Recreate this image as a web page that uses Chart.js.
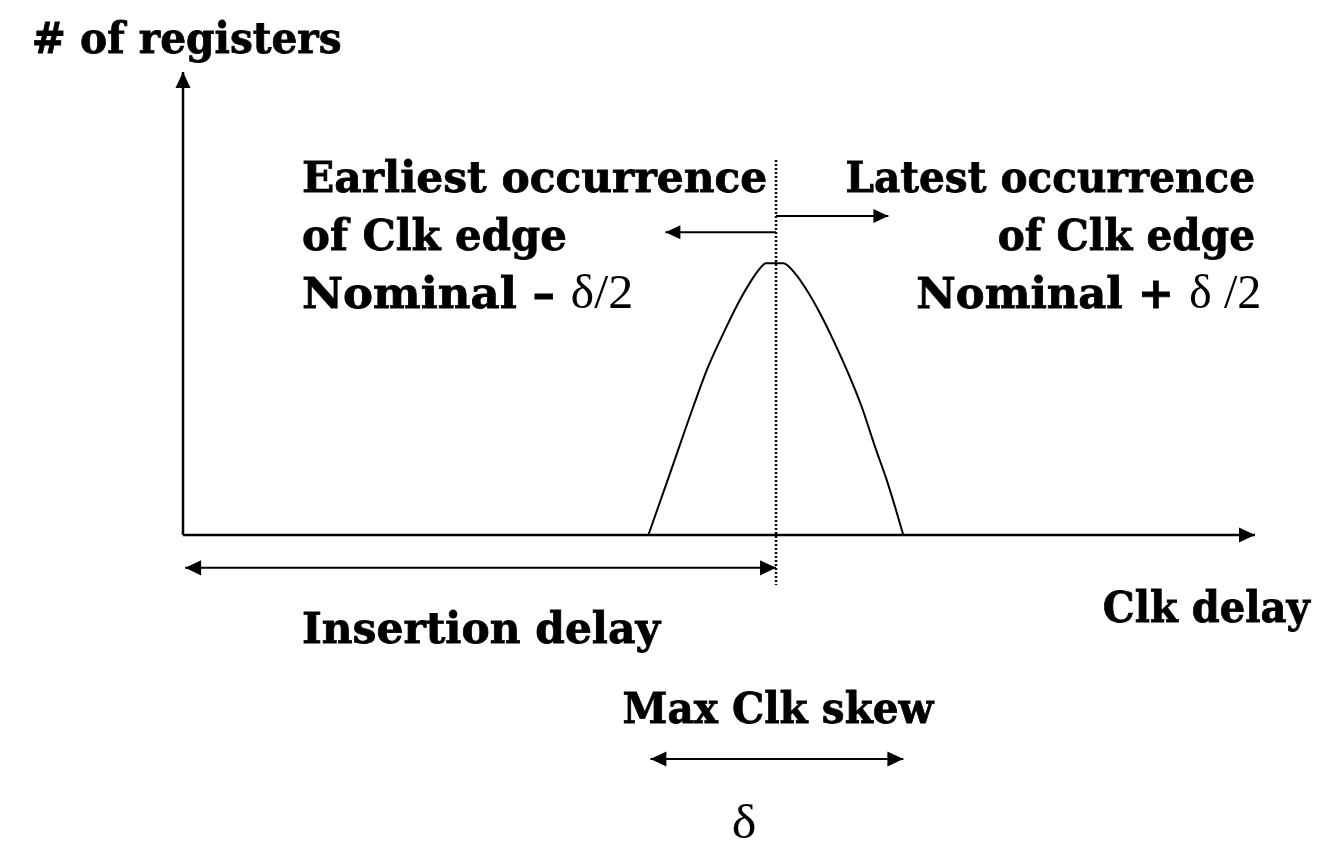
<!DOCTYPE html>
<html lang="en">
<head>
  <meta charset="UTF-8">
  <title>Clock skew distribution</title>
  <script src="https://cdn.jsdelivr.net/npm/chart.js"></script>
  <style>
    body { margin: 0; background: #fff; }
    #wrap { width: 1326px; height: 841px; }
  </style>
</head>
<body>
  <div id="wrap"><canvas id="skewChart"></canvas></div>

  <script>
    // Clock arrival distribution (x = clk delay, y = # of registers), arbitrary units
    const delayPts = [43.41, 45.43, 47.60, 49.00, 50.56, 51.96, 53.05, 53.82, 54.38,
                      56.00, 57.09, 58.18, 59.42, 60.66, 62.06, 63.31, 64.55, 65.64, 66.42, 67.19];
    const regCount = [0, 13.3, 27.7, 36.4, 44.3, 50.8, 55.1, 57.6, 58.7,
                      58.7, 56.5, 52.9, 47.9, 42.1, 34.9, 27.7, 19.1, 11.9, 6.1, 0];

    // Key delays
    const nominal = 55.32;
    const earliest = 43.6;
    const latest = 67.2;
    const axisMax = 100;

    // Arrow rows (y levels) and extents
    const earlyArrow = [nominal, 45.0];
    const lateArrow = [nominal, 65.8];
    const arrowLevels = { early: 65.4, late: 68.9, insertion: -7.1, skew: -48.4 };
    const nominalSpan = [81.0, -10.8];

    const pts = (xs, ys) => xs.map((x, i) => ({ x, y: ys[i] }));
    const line = (x0, x1, y) => [{ x: x0, y }, { x: x1, y }];

    const BOLD = 'bold 43px "DejaVu Serif"';
    const REG = '48px "Liberation Serif"';

    // Text labels: span [x0, x1] and baseline y in data units
    const labels = [
      { parts: [['# of registers', BOLD]], x0: -14.1, x1: 14.8, y: 104.1 },
      { parts: [['Earliest occurrence', BOLD]], x0: 11.1, x1: 54.5, y: 74.1 },
      { parts: [['of Clk edge', BOLD]], x0: 11.1, x1: 35.8, y: 61.6 },
      { parts: [['Nominal \u2013 ', BOLD], ['\u03b4/2', REG]], x0: 11.1, x1: 42.0, y: 49.0 },
      { parts: [['Latest occurrence', BOLD]], x0: 61.8, x1: 100.0, y: 74.1 },
      { parts: [['of Clk edge', BOLD]], x0: 76.0, x1: 100.0, y: 61.6 },
      { parts: [['Nominal + ', BOLD], ['\u03b4 /2', REG]], x0: 68.4, x1: 100.6, y: 49.0 },
      { parts: [['Insertion delay', BOLD]], x0: 11.1, x1: 44.5, y: -23.3 },
      { parts: [['Clk delay', BOLD]], x0: 85.8, x1: 105.1, y: -18.8 },
      { parts: [['Max Clk skew', BOLD]], x0: 41.0, x1: 70.0, y: -40.6 },
      { parts: [['\u03b4', REG]], x0: 51.2, x1: 53.5, y: -65.4 }
    ];

    // draws arrow heads at line ends
    const arrowPlugin = {
      id: 'arrows',
      afterDatasetsDraw(chart) {
        const ctx = chart.ctx;
        chart.data.datasets.forEach((ds, i) => {
          if (!ds.heads) return;
          const el = chart.getDatasetMeta(i).data;
          const a = el[0], b = el[el.length - 1];
          const size = ds.headSize || 16;
          const head = (tip, from) => {
            const ang = Math.atan2(tip.y - from.y, tip.x - from.x);
            ctx.save();
            ctx.translate(tip.x, tip.y);
            ctx.rotate(ang);
            ctx.beginPath();
            ctx.moveTo(0, 0);
            ctx.lineTo(-size, -size * 0.47);
            ctx.lineTo(-size, size * 0.47);
            ctx.closePath();
            ctx.fillStyle = '#000';
            ctx.fill();
            ctx.restore();
          };
          if (ds.heads === 'end' || ds.heads === 'both') head(b, a);
          if (ds.heads === 'both') head(a, b);
        });
      }
    };

    // draws text labels, squeezed/stretched to their span
    const labelPlugin = {
      id: 'labels',
      afterDraw(chart) {
        const ctx = chart.ctx;
        const sx = chart.scales.x, sy = chart.scales.y;
        ctx.save();
        ctx.fillStyle = '#000';
        ctx.strokeStyle = '#000';
        ctx.textBaseline = 'alphabetic';
        ctx.textAlign = 'left';
        labels.forEach(lb => {
          let w = 0;
          lb.parts.forEach(([t, f]) => { ctx.font = f; w += ctx.measureText(t).width; });
          const px0 = sx.getPixelForValue(lb.x0);
          const px1 = sx.getPixelForValue(lb.x1);
          ctx.save();
          ctx.translate(px0, sy.getPixelForValue(lb.y));
          ctx.scale((px1 - px0) / w, 1);
          let x = 0;
          lb.parts.forEach(([t, f]) => {
            ctx.font = f;
            ctx.fillText(t, x, 0);
            // thicken the bold parts a little (reference face is heavier)
            if (f === BOLD) { ctx.lineWidth = 0.8; ctx.strokeText(t, x, 0); }
            x += ctx.measureText(t).width;
          });
          ctx.restore();
        });
        ctx.restore();
      }
    };

    const base = { borderColor: '#000', borderWidth: 2, pointRadius: 0, fill: false, clip: false };

    new Chart(document.getElementById('skewChart'), {
      type: 'line',
      data: {
        datasets: [
          { ...base, label: 'Distribution', data: pts(delayPts, regCount), cubicInterpolationMode: 'monotone' },
          { ...base, label: 'y axis', data: [{ x: 0, y: 0 }, { x: 0, y: axisMax }], borderWidth: 2.5, heads: 'end' },
          { ...base, label: 'x axis', data: line(0, axisMax, 0), borderWidth: 2.5, heads: 'end' },
          { ...base, label: 'Nominal', data: [{ x: nominal, y: nominalSpan[0] }, { x: nominal, y: nominalSpan[1] }], borderWidth: 2.5, borderDash: [2, 2] },
          { ...base, label: 'Earliest', data: line(earlyArrow[0], earlyArrow[1], arrowLevels.early), heads: 'end', headSize: 15 },
          { ...base, label: 'Latest', data: line(lateArrow[0], lateArrow[1], arrowLevels.late), heads: 'end', headSize: 15 },
          { ...base, label: 'Insertion delay', data: line(0.2, nominal, arrowLevels.insertion), heads: 'both' },
          { ...base, label: 'Max Clk skew', data: line(earliest, latest, arrowLevels.skew), heads: 'both' }
        ]
      },
      options: {
        responsive: true,
        maintainAspectRatio: false,
        animation: false,
        layout: { padding: { left: 183, right: 71, top: 72, bottom: 306 } },
        scales: {
          x: { type: 'linear', min: 0, max: axisMax, display: false },
          y: { type: 'linear', min: 0, max: axisMax, display: false }
        },
        plugins: { legend: { display: false }, tooltip: { enabled: false } }
      },
      plugins: [arrowPlugin, labelPlugin]
    });
  </script>
</body>
</html>
